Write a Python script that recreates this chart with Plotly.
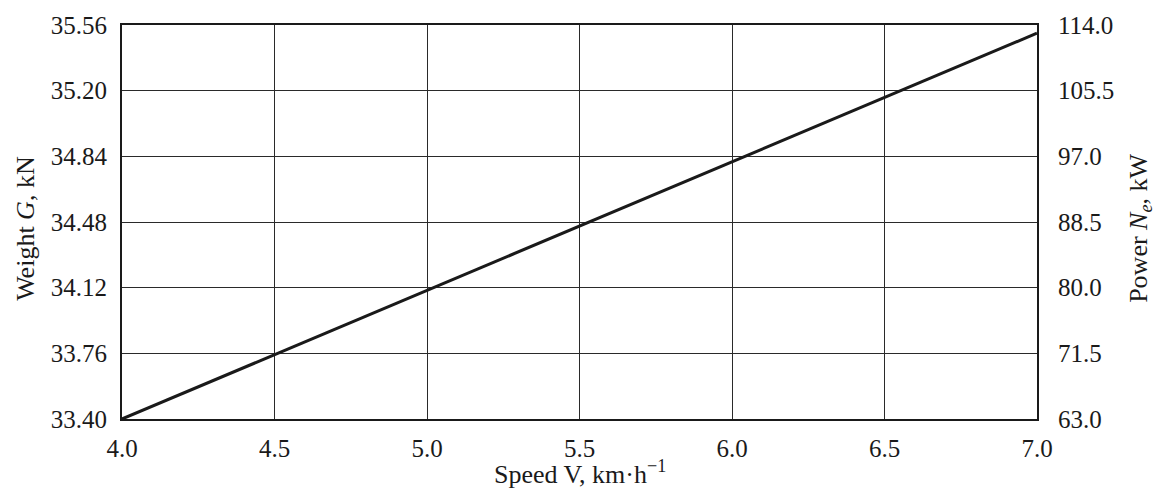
import plotly.graph_objects as go

speed = [4.0, 4.5, 5.0, 5.5, 6.0, 6.5, 7.0]
weight = [33.40, 33.753, 34.105, 34.458, 34.81, 35.163, 35.515]
power = [63.0, 71.3, 79.7, 88.0, 96.3, 104.6, 112.9]

x_ticks = [4.0, 4.5, 5.0, 5.5, 6.0, 6.5, 7.0]
g_ticks = [33.40, 33.76, 34.12, 34.48, 34.84, 35.20, 35.56]
p_ticks = [63.0, 71.5, 80.0, 88.5, 97.0, 105.5, 114.0]

FONT = "Liberation Serif"
TICK = 25
TITLE = 26
INK = "#1a1a1a"

fig = go.Figure()
fig.add_trace(go.Scatter(x=speed, y=weight, mode="lines",
                         line=dict(color=INK, width=3), showlegend=False))
fig.add_trace(go.Scatter(x=speed, y=power, yaxis="y2", mode="lines",
                         line=dict(color="rgba(0,0,0,0)", width=0), showlegend=False,
                         hoverinfo="skip"))

axis_common = dict(showline=True, linecolor=INK, linewidth=2,
                   gridcolor="#2a2a2a", gridwidth=1, zeroline=False,
                   tickfont=dict(family=FONT, size=TICK, color=INK),
                   ticks="")
title_font = dict(family=FONT, size=TITLE, color=INK)
fig.update_layout(
    width=1158, height=495,
    margin=dict(l=122, r=121, t=21, b=76),
    paper_bgcolor="white", plot_bgcolor="white",
    font=dict(family=FONT, color=INK),
    xaxis=dict(range=[4.0, 7.0], tickvals=x_ticks,
               ticktext=[f"{v:.1f}" for v in x_ticks], mirror=True,
               ticklabelstandoff=6,
               **axis_common),
    yaxis=dict(range=[33.40, 35.56], tickvals=g_ticks,
               ticktext=[f"{v:.2f}" for v in g_ticks],
               ticklabelstandoff=8,
               **axis_common),
    yaxis2=dict(range=[63.0, 114.0], tickvals=p_ticks,
                ticktext=[f"{v:.1f}" for v in p_ticks], overlaying="y", side="right",
                showgrid=False, ticklabelstandoff=14,
                showline=True, linecolor=INK, linewidth=2, zeroline=False,
                tickfont=dict(family=FONT, size=TICK, color=INK), ticks=""),
    annotations=[
        dict(text="Speed V, km·h<sup>−1</sup>", xref="paper", yref="paper",
             x=0.5, y=-0.135, xanchor="center", yanchor="middle",
             showarrow=False, font=title_font),
        dict(text="Weight <i>G</i>, kN", xref="paper", yref="paper",
             x=-0.105, y=0.485, xanchor="center", yanchor="middle", textangle=-90,
             showarrow=False, font=title_font),
        dict(text="Power <i>N</i><sub><i>e</i></sub>, kW", xref="paper", yref="paper",
             x=1.1125, y=0.485, xanchor="center", yanchor="middle", textangle=-90,
             showarrow=False, font=title_font),
    ],
)
fig.write_html("out.html")
